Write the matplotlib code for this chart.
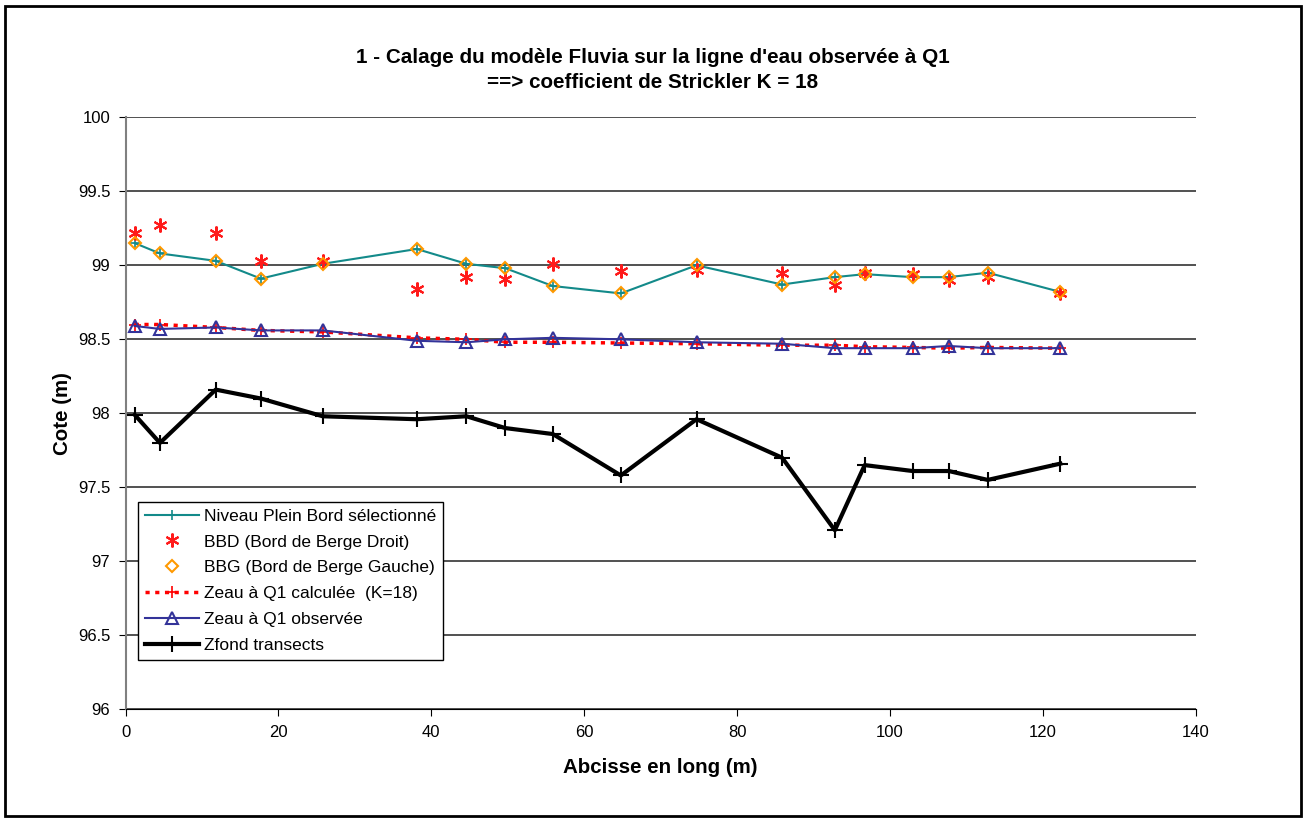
import matplotlib.pyplot as plt
from matplotlib.patches import Rectangle

plt.rcParams['font.family'] = ['Liberation Sans', 'DejaVu Sans']

# Abscisses des profils (m)
abscisse = [1.2, 4.5, 11.8, 17.7, 25.8, 38.1, 44.6, 49.7, 55.9, 64.8,
            74.7, 85.9, 92.8, 96.7, 103.0, 107.7, 112.8, 122.3]

# Cotes (m)
niveau_plein_bord = [99.15, 99.08, 99.03, 98.91, 99.01, 99.11, 99.01, 98.98, 98.86, 98.81,
                     99.00, 98.87, 98.92, 98.94, 98.92, 98.92, 98.95, 98.82]
bbd = [99.22, 99.27, 99.22, 99.03, 99.03, 98.84, 98.92, 98.91, 99.01, 98.96,
       98.97, 98.95, 98.87, 98.95, 98.94, 98.90, 98.92, 98.81]
bbg = [99.15, 99.08, 99.03, 98.91, 99.01, 99.11, 99.01, 98.98, 98.86, 98.81,
       99.00, 98.87, 98.92, 98.94, 98.92, 98.92, 98.95, 98.82]
zeau_calculee = [98.60, 98.60, 98.58, 98.56, 98.55, 98.51, 98.50, 98.48, 98.48, 98.475,
                 98.47, 98.46, 98.46, 98.45, 98.445, 98.44, 98.445, 98.44]
zeau_observee = [98.59, 98.57, 98.58, 98.56, 98.56, 98.49, 98.48, 98.50, 98.51, 98.50,
                 98.48, 98.47, 98.44, 98.44, 98.44, 98.455, 98.44, 98.44]
zfond = [97.99, 97.80, 98.16, 98.10, 97.98, 97.96, 97.98, 97.90, 97.86, 97.58,
         97.96, 97.70, 97.21, 97.65, 97.61, 97.61, 97.55, 97.66]

fig = plt.figure(figsize=(13.05, 8.19), dpi=100)
ax = fig.add_axes([0.0962, 0.1339, 0.82, 0.7229])

# cadre autour du graphique
fig.patches.append(Rectangle((0.004, 0.004), 0.993, 0.989, transform=fig.transFigure,
                             fill=False, edgecolor='black', linewidth=2))

ax.plot(abscisse, niveau_plein_bord, color='#138a8a', lw=1.5, marker='+', ms=7, mew=1.2,
        label='Niveau Plein Bord sélectionné', zorder=3)
ax.plot(abscisse, bbd, ls='none', marker=(6, 2, 0), ms=10, mew=1.5, color='#ff1a1a',
        label='BBD (Bord de Berge Droit)', zorder=4)
ax.plot(abscisse, bbg, ls='none', marker='D', ms=6.5, mew=1.5, mfc='none', color='#ff9900',
        label='BBG (Bord de Berge Gauche)', zorder=4)
ax.plot(abscisse, zeau_calculee, color='#ff0000', lw=2.5, ls=(0, (1.2, 1.6)), marker='+', ms=9,
        mew=1.2, label='Zeau à Q1 calculée  (K=18)', zorder=3)
ax.plot(abscisse, zeau_observee, color='#333399', lw=1.5, marker='^', ms=8, mew=1.5, mfc='none',
        label='Zeau à Q1 observée', zorder=3)
ax.plot(abscisse, zfond, color='black', lw=3, marker='+', ms=12, mew=1.5,
        label='Zfond transects', zorder=5)

ax.set_xlim(0, 140)
ax.set_ylim(96, 100)
ax.set_xticks(range(0, 141, 20))
ax.set_yticks([96, 96.5, 97, 97.5, 98, 98.5, 99, 99.5, 100])
ax.set_yticklabels(['96', '96.5', '97', '97.5', '98', '98.5', '99', '99.5', '100'])
ax.yaxis.grid(True, color='#222222', lw=1.1)
ax.set_axisbelow(True)
ax.spines['top'].set_visible(False)
ax.spines['right'].set_visible(False)
ax.spines['left'].set_color('#808080')
ax.spines['left'].set_linewidth(1.5)
ax.tick_params(direction='out', length=5, labelsize=12, pad=6)
ax.tick_params(axis='y', color='black')

ax.set_xlabel('Abcisse en long (m)', fontsize=14.8, fontweight='bold', labelpad=13)
ax.set_ylabel('Cote (m)', fontsize=14.8, fontweight='bold', labelpad=4)
fig.text(0.5, 0.930, "1 - Calage du modèle Fluvia sur la ligne d'eau observée à Q1",
         ha='center', va='center', fontsize=14.9, fontweight='bold')
fig.text(0.5, 0.899, "==> coefficient de Strickler K = 18",
         ha='center', va='center', fontsize=14.9, fontweight='bold')

leg = ax.legend(loc='upper left', bbox_to_anchor=(0.0115, 0.351), fontsize=12.5, frameon=True,
                fancybox=False, edgecolor='black', framealpha=1, handlelength=3.1,
                borderaxespad=0, labelspacing=0.62, handletextpad=0.3, borderpad=0.4)
leg.get_frame().set_linewidth(1)

plt.savefig('out.png', dpi=100)
